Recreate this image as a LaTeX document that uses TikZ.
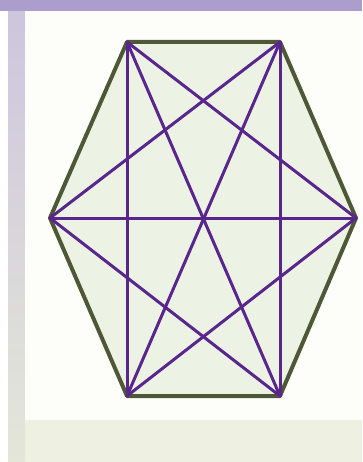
\documentclass[tikz,border=0pt]{standalone}
\usepackage{xcolor}
\usepackage{tikz}
\usetikzlibrary{calc}
\definecolor{band}{RGB}{172,158,204}
\definecolor{strip}{RGB}{204,198,222}
\definecolor{stripend}{RGB}{228,230,216}
\definecolor{panel}{RGB}{253,253,250}
\definecolor{floor}{RGB}{238,240,226}
\definecolor{hexfill}{RGB}{237,243,228}
\definecolor{rim}{RGB}{78,88,54}
\definecolor{chord}{RGB}{88,38,140}

\begin{document}
\begin{tikzpicture}[x=1pt,y=-1pt]
  \useasboundingbox (0,0) rectangle (362,462);
  % frame
  \fill[color=white] (0,0) rectangle (362,462);
  \fill[color=floor] (8,420) rectangle (362,462);
  \shade[top color=strip, bottom color=stripend] (8,11) rectangle (25,462);
  \fill[color=panel] (25,11) rectangle (362,420);
  \fill[color=band] (0,0) rectangle (362,11);
  % vertices
  \coordinate (tl) at (127,42);
  \coordinate (tr) at (280,42);
  \coordinate (r) at (356,218);
  \coordinate (br) at (280,396);
  \coordinate (bl) at (127,396);
  \coordinate (l) at (50,218);
  \fill[color=hexfill] (tl) -- (tr) -- (r) -- (br) -- (bl) -- (l) -- cycle;
  \draw[color=rim, line width=4pt, line join=round] (tl) -- (tr) -- (r) -- (br) -- (bl) -- (l) -- cycle;
  \foreach \a/\b in {tl/r,tl/br,tl/bl,tr/l,tr/bl,tr/br,l/r,l/br,r/bl}
    \draw[color=chord, line width=3pt, line cap=round] (\a) -- (\b);
\end{tikzpicture}
\end{document}
